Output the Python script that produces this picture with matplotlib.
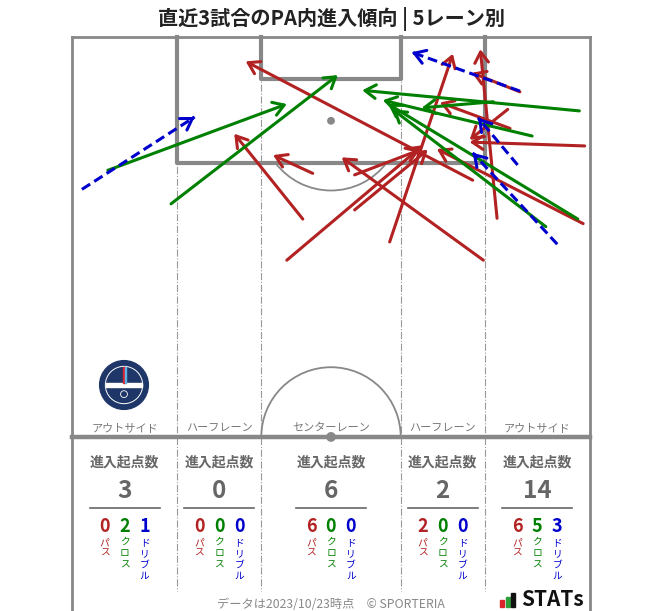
import numpy as np
import matplotlib
matplotlib.use("Agg")
import matplotlib.pyplot as plt
from matplotlib.patches import FancyArrowPatch, Arc, Circle, Rectangle

plt.rcParams['font.family'] = ['Noto Sans CJK JP', 'DejaVu Sans']

PX = 518 / 68  # picture pixels per metre

# PA entries, metres: x across the pitch (0 = left touchline), y from the goal line
pass_start = [(30.3, 23.9), (31.6, 17.9), (28.2, 29.3), (37.1, 18.1), (37.1, 22.7), (41.7, 26.9),
              (52.6, 18.8), (54.0, 29.3),
              (67.3, 14.3), (67.1, 24.5), (55.8, 23.8), (57.2, 9.5), (58.8, 7.2), (57.5, 12.0)]
pass_end = [(21.3, 12.7), (26.4, 15.5), (46.1, 14.2), (45.7, 14.8), (46.7, 14.8), (50.0, 2.2),
            (22.8, 3.2), (35.4, 15.8),
            (52.2, 13.8), (47.9, 14.7), (53.6, 1.6), (52.2, 13.5), (52.5, 4.7), (48.3, 8.6)]
cross_start = [(4.7, 17.5), (13.0, 21.9),
               (66.6, 9.7), (55.3, 8.5), (60.4, 13.0), (66.4, 23.9), (62.2, 24.9)]
cross_end = [(28.2, 8.8), (34.9, 5.0),
             (38.1, 7.0), (45.9, 9.3), (40.8, 8.3), (41.5, 8.8), (42.1, 9.5)]
dribble_start = [(1.3, 20.0), (58.8, 7.1), (58.5, 16.8), (63.7, 27.2)]
dribble_end = [(16.1, 10.5), (44.6, 2.0), (53.3, 10.6), (52.6, 15.2)]

lane_names = ["アウトサイド", "ハーフレーン", "センターレーン", "ハーフレーン", "アウトサイド"]
lane_edges = [0, 13.84, 24.84, 43.16, 54.16, 68]
entry_total = [3, 0, 6, 2, 14]
entry_pass = [0, 0, 6, 2, 6]
entry_cross = [2, 0, 0, 0, 5]
entry_dribble = [1, 0, 0, 0, 3]

RED, GREEN, BLUE = '#b22222', '#008000', '#0000cd'
LINE = '#888888'
GREY_TXT = '#666666'


def y_px(py):
    return (py - 37) / PX


def arrow(ax, p0, p1, color, dashed=False):
    style = '->,head_length=0.55,head_width=0.35'
    if dashed:
        ax.plot([p0[0], p1[0]], [p0[1], p1[1]], color=color, lw=2.2,
                ls=(0, (3.2, 1.6)), zorder=5)
        d = np.subtract(p1, p0)
        d = d / np.hypot(*d)
        p0 = tuple(np.asarray(p1) - d * 0.4)
    ax.add_patch(FancyArrowPatch(p0, p1, arrowstyle=style, mutation_scale=14, color=color,
                                 lw=2.2, shrinkA=0, shrinkB=0, zorder=5))


fig = plt.figure(figsize=(6.63, 6.11), dpi=100)
ax = fig.add_axes([0, 0, 1, 1])
ax.set_xlim(-72 / PX, (663 - 72) / PX)
ax.set_ylim((611 - 37) / PX, -37 / PX)
ax.axis('off')

# lane dividers
for x in lane_edges[1:-1]:
    ax.plot([x, x], [0, y_px(591)], color='#999999', lw=0.8, ls='-.', zorder=1)

# pitch
ax.plot([0, 68], [0, 0], color=LINE, lw=2, zorder=2)
ax.plot([0, 0], [0, 80], color=LINE, lw=2, zorder=2)
ax.plot([68, 68], [0, 80], color=LINE, lw=2, zorder=2)
ax.plot([0, 68], [52.5, 52.5], color=LINE, lw=3.2, zorder=2)
ax.plot([13.84, 13.84, 54.16, 54.16], [0, 16.5, 16.5, 0], color=LINE, lw=3, zorder=2)
ax.plot([24.84, 24.84, 43.16, 43.16], [0, 5.5, 5.5, 0], color=LINE, lw=3, zorder=2)
ax.add_patch(Circle((34, 11), 0.42, color=LINE, zorder=2))
ax.add_patch(Circle((34, 52.5), 0.55, color=LINE, zorder=2))
ax.add_patch(Arc((34, 11), 18.3, 18.3, theta1=36.9, theta2=143.1, color=LINE, lw=1.3, zorder=2))
ax.add_patch(Arc((34, 52.5), 18.3, 18.3, theta1=180, theta2=360, color=LINE, lw=1.3, zorder=2))

# arrows
for p0, p1 in zip(pass_start, pass_end):
    arrow(ax, p0, p1, RED)
for p0, p1 in zip(cross_start, cross_end):
    arrow(ax, p0, p1, GREEN)
for p0, p1 in zip(dribble_start, dribble_end):
    arrow(ax, p0, p1, BLUE, dashed=True)

# crest
cx, cy = (124 - 72) / PX, y_px(385)
ax.add_patch(Circle((cx, cy), 3.2, color='#1f3768', zorder=3))
ax.add_patch(Circle((cx, cy), 2.45, fc='none', ec='white', lw=0.7, zorder=3))
ax.add_patch(Rectangle((cx - 2.4, cy - 0.25), 4.8, 0.5, color='white', zorder=3))
ax.add_patch(Rectangle((cx - 0.15, cy - 2.3), 0.22, 2.0, color='#d9232d', zorder=3))
ax.add_patch(Rectangle((cx + 0.07, cy - 2.3), 0.22, 2.0, color='#5ab4e5', zorder=3))
ax.add_patch(Circle((cx, cy + 1.2), 0.45, fc='none', ec='white', lw=0.6, zorder=3))

# titles and lane stats
ax.text(34, y_px(19), "直近3試合のPA内進入傾向 | 5レーン別", ha='center', va='center',
        fontsize=14.5, fontweight='bold', color='#222222')

for i, name in enumerate(lane_names):
    xc = (lane_edges[i] + lane_edges[i + 1]) / 2
    ax.text(xc, y_px(428), name, ha='center', va='center', fontsize=8, color='#777777')
    ax.text(xc, y_px(462), "進入起点数", ha='center', va='center', fontsize=10,
            fontweight='bold', color=GREY_TXT)
    ax.text(xc, y_px(491), str(entry_total[i]), ha='center', va='center', fontsize=17.5,
            fontweight='bold', color=GREY_TXT)
    ax.plot([xc - 35 / PX, xc + 35 / PX], [y_px(508)] * 2, color=GREY_TXT, lw=1.2)
    for k, (val, lab, col) in enumerate(zip([entry_pass[i], entry_cross[i], entry_dribble[i]],
                                            ["パス", "クロス", "ドリブル"], [RED, GREEN, BLUE])):
        xk = xc + (k - 1) * 20 / PX
        ax.text(xk, y_px(526), str(val), ha='center', va='center', fontsize=13,
                fontweight='bold', color=col)
        ax.text(xk, y_px(537), "\n".join(lab), ha='center', va='top', fontsize=7,
                color=col, linespacing=1.15)

ax.text(34, y_px(604), "データは2023/10/23時点　© SPORTERIA", ha='center', va='center',
        fontsize=8.8, color='#888888')

# STATs logo
for bx, btop, bc in [(500, 600, '#d9232d'), (505.5, 597, '#2e9e3a'), (511, 593, '#111111')]:
    ax.add_patch(Rectangle(((bx - 72) / PX, y_px(607)), 4 / PX, (btop - 607) / PX, color=bc))
ax.text((521 - 72) / PX, y_px(600), "STATs", ha='left', va='center', fontsize=15,
        fontweight='bold', color='#111111')

fig.savefig('out.png', dpi=100)
